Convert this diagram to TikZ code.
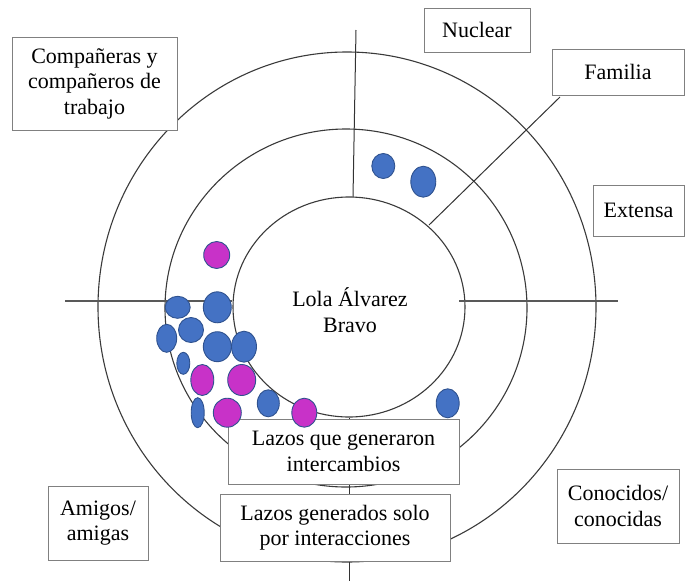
\documentclass[tikz,border=0pt]{standalone}
\usepackage{fontspec}
\setmainfont{Liberation Serif}
\newfontfamily\lserif{Liberation Serif}
\usetikzlibrary{shapes.geometric}
\definecolor{dotblue}{HTML}{4472C4}
\definecolor{dotmag}{HTML}{C832C8}
\definecolor{dotedge}{HTML}{2F528F}
\definecolor{ringcol}{HTML}{3A3A3A}
\definecolor{boxcol}{HTML}{808080}
\begin{document}
\begin{tikzpicture}[x=1pt,y=-1pt,
  ring/.style={draw=ringcol,line width=1.1pt},
  spoke/.style={draw=black!65,line width=1.2pt},
  labelbox/.style={draw=boxcol,fill=white,line width=0.8pt,inner sep=0pt,align=center,
     font=\lserif\fontsize{22}{25.5}\selectfont},
  bluedot/.style={ellipse,fill=dotblue,draw=dotedge,line width=0.9pt,inner sep=0pt},
  magdot/.style={ellipse,fill=dotmag,draw=dotedge,line width=0.9pt,inner sep=0pt}]
\useasboundingbox (0,0) rectangle (688,581);
% rings
\coordinate (ci) at (349,307);
\coordinate (cm) at (346,308);
\coordinate (co) at (347,307);
\draw[ring] (co) ellipse [x radius=249pt, y radius=255pt];
\draw[ring] (cm) ellipse [x radius=181pt, y radius=179pt];
\draw[ring,fill=white] (ci) ellipse [x radius=116pt, y radius=110pt];
% spokes
\coordinate (t1) at (356,30);  \coordinate (t2) at (353,197);
\coordinate (g1) at (560,97);  \coordinate (g2) at (429,225);
\coordinate (l1) at (65,301);  \coordinate (l2) at (232,301);
\coordinate (r1) at (459,301); \coordinate (r2) at (618,301);
\coordinate (b1) at (349,418); \coordinate (b2) at (349,581);
\draw[spoke,line width=1pt,draw=black!80] (t1) -- (t2);
\draw[spoke,line width=1pt,draw=black!80] (g1) -- (g2);
\draw[spoke] (l1) -- (l2);
\draw[spoke] (r1) -- (r2);
\draw[spoke,line width=1pt,draw=black!80] (b1) -- (b2);
% centre label
\node[font=\lserif\fontsize{22}{26}\selectfont,align=center] (lola) at (350,310) {Lola Álvarez\\Bravo};
% boxes
\node[labelbox,minimum width=165pt,minimum height=93pt] (comp) at (94.5,83.5) {Compañeras y\\compañeros de\\trabajo};
\node[labelbox,minimum width=106pt,minimum height=44pt] (nuc) at (477,30) {Nuclear};
\node[labelbox,minimum width=132pt,minimum height=46pt] (fam) at (618,72) {Familia};
\node[labelbox,minimum width=91pt,minimum height=51pt] (ext) at (638.5,210.5) {Extensa};
\node[labelbox,minimum width=231pt,minimum height=65pt] (inter) at (343.5,451.5) {Lazos que generaron\\intercambios};
\node[labelbox,minimum width=230pt,minimum height=67pt] (solo) at (335,527.5) {Lazos generados solo\\por interacciones};
\node[labelbox,minimum width=122pt,minimum height=74pt] (cono) at (618,506) {Conocidos/\\conocidas};
\node[labelbox,minimum width=100pt,minimum height=74pt] (amig) at (98,523) {Amigos/\\amigas};
% dots
\node[magdot,minimum width=26pt,minimum height=27pt] (d1) at (216.7,255) {};
\node[bluedot,minimum width=25pt,minimum height=22pt] (d2) at (177.7,307.3) {};
\node[bluedot,minimum width=28pt,minimum height=31pt] (d3) at (217.3,307.3) {};
\node[bluedot,minimum width=20pt,minimum height=28pt] (d4) at (166.7,338.3) {};
\node[bluedot,minimum width=25pt,minimum height=25pt] (d5) at (191,330) {};
\node[bluedot,minimum width=28pt,minimum height=30pt] (d6) at (217.3,346.7) {};
\node[bluedot,minimum width=25pt,minimum height=31pt] (d7) at (244,346.7) {};
\node[bluedot,minimum width=13pt,minimum height=22pt] (d8) at (183.3,363.3) {};
\node[magdot,minimum width=23pt,minimum height=31pt] (d9) at (202.3,380) {};
\node[magdot,minimum width=28pt,minimum height=31pt] (d10) at (241.7,380) {};
\node[bluedot,minimum width=13pt,minimum height=30pt] (d11) at (197.7,412.7) {};
\node[magdot,minimum width=28pt,minimum height=29pt] (d12) at (227.3,412.7) {};
\node[bluedot,minimum width=22pt,minimum height=27pt] (d13) at (268.3,403.3) {};
\node[magdot,minimum width=25pt,minimum height=29pt] (d14) at (304.3,412.7) {};
\node[bluedot,minimum width=23pt,minimum height=25pt] (d15) at (383.3,166) {};
\node[bluedot,minimum width=25pt,minimum height=31pt] (d16) at (423.3,181.7) {};
\node[bluedot,minimum width=23pt,minimum height=29pt] (d17) at (447.7,403.3) {};
\end{tikzpicture}
\end{document}
